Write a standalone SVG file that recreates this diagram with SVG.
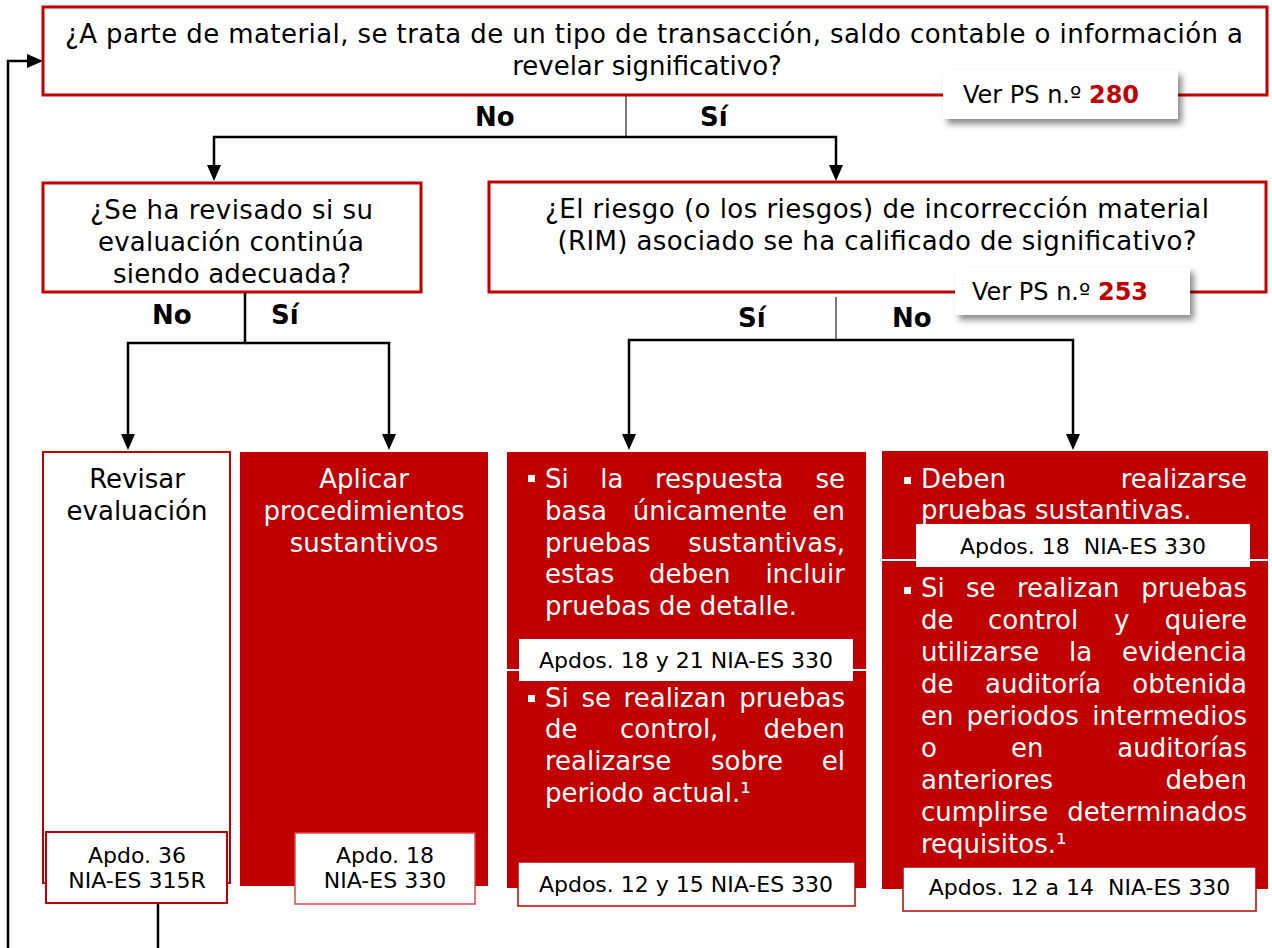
<svg xmlns="http://www.w3.org/2000/svg" width="1272" height="948" viewBox="0 0 1272 948">
<defs>
<style>
.t{font-family:"DejaVu Sans",Verdana,sans-serif;font-size:26px;fill:#000}
.w{fill:#fff}
.r{font-size:22px;white-space:pre}
.v{font-size:24px}
.b{font-weight:bold}
.red{fill:#C00000}
.e{text-anchor:end}
.m{text-anchor:middle}
.conn{fill:none;stroke:#000;stroke-width:2.5}
.thin{fill:none;stroke:#222;stroke-width:1.2}
.qbox{fill:#fff;stroke:#C00000;stroke-width:3}
.fillred{fill:#C00000}
.ref{fill:#fff}
</style>
<marker id="ah" viewBox="0 0 16 16" markerWidth="16" markerHeight="16" refX="6" refY="8" orient="auto" markerUnits="userSpaceOnUse">
<path d="M0,1 L16,8 L0,15 z" fill="#000"/>
</marker>
<filter id="sh" x="-10%" y="-30%" width="130%" height="180%">
<feDropShadow dx="4" dy="5" stdDeviation="3" flood-color="#000" flood-opacity="0.45"/>
</filter>
</defs>
<rect width="1272" height="948" fill="#fff"/>

<g id="connectors">
<line class="thin" x1="626" y1="95" x2="626" y2="137"/>
<path class="conn" d="M626,137 H214 V171" marker-end="url(#ah)"/>
<path class="conn" d="M626,137 H836 V171" marker-end="url(#ah)"/>
<path class="conn" d="M245,292 V343 H128 V440" marker-end="url(#ah)"/>
<path class="conn" d="M245,343 H389 V440" marker-end="url(#ah)"/>
<line class="thin" x1="836" y1="297" x2="836" y2="340"/>
<path class="conn" d="M836,340 H629 V440" marker-end="url(#ah)"/>
<path class="conn" d="M836,340 H1073 V440" marker-end="url(#ah)"/>
<path class="conn" d="M158,903 V948"/>
<path class="conn" d="M8,948 V61 H33" marker-end="url(#ah)"/>
</g>

<g id="labels" class="t b">
<text x="475" y="126">No</text>
<text x="700" y="126">Sí</text>
<text x="152" y="324">No</text>
<text x="271" y="324">Sí</text>
<text x="738" y="327">Sí</text>
<text x="892" y="327">No</text>
</g>

<g id="q1">
<rect class="qbox" x="43" y="7" width="1224" height="88"/>
<text class="t" x="65" y="43" textLength="1178" lengthAdjust="spacing">¿A parte de material, se trata de un tipo de transacción, saldo contable o información a</text>
<text class="t m" x="647" y="75">revelar significativo?</text>
<g id="ps280">
<rect x="943" y="70" width="235" height="49" fill="#fff" filter="url(#sh)"/>
<text class="t v" x="963" y="103">Ver PS n.º <tspan class="b red">280</tspan></text>
</g>
</g>

<g id="q2">
<rect class="qbox" x="43" y="183" width="378" height="109"/>
<text class="t m" x="231.5" y="219" textLength="283" lengthAdjust="spacing">¿Se ha revisado si su</text>
<text class="t m" x="231" y="251" textLength="266" lengthAdjust="spacing">evaluación continúa</text>
<text class="t m" x="232" y="283" textLength="238" lengthAdjust="spacing">siendo adecuada?</text>
</g>

<g id="q3">
<rect class="qbox" x="489" y="182" width="777" height="110"/>
<text class="t m" x="877" y="218" textLength="664" lengthAdjust="spacing">¿El riesgo (o los riesgos) de incorrección material</text>
<text class="t m" x="877" y="250" textLength="639" lengthAdjust="spacing">(RIM) asociado se ha calificado de significativo?</text>
<g id="ps253">
<rect x="955" y="267" width="235" height="48" fill="#fff" filter="url(#sh)"/>
<text class="t v" x="972" y="300">Ver PS n.º <tspan class="b red">253</tspan></text>
</g>
</g>

<g id="n1">
<rect x="43" y="452" width="187" height="431" fill="#fff" stroke="#C00000" stroke-width="2"/>
<text class="t m" x="137" y="488">Revisar</text>
<text class="t m" x="137" y="520">evaluación</text>
<rect x="46" y="832" width="181" height="71" fill="#fff" stroke="#C00000" stroke-width="2"/>
<text class="t r m" x="137" y="863">Apdo. 36</text>
<text class="t r m" x="137" y="888">NIA-ES 315R</text>
</g>

<g id="n2">
<rect class="fillred" x="240" y="452" width="248" height="434"/>
<text class="t w m" x="364" y="488">Aplicar</text>
<text class="t w m" x="364" y="520">procedimientos</text>
<text class="t w m" x="364" y="552">sustantivos</text>
<rect x="295" y="833" width="180" height="71" fill="#fff" stroke="#E04848" stroke-width="1.5"/>
<text class="t r m" x="385" y="863">Apdo. 18</text>
<text class="t r m" x="385" y="888">NIA-ES 330</text>
</g>

<g id="n3">
<rect class="fillred" x="507" y="452" width="359" height="436"/>
<rect x="528" y="475" width="7" height="7" fill="#fff"/>
<g class="t w">
<text y="488"><tspan x="545">Si</tspan><tspan x="600.3">la</tspan><tspan x="655">respuesta</tspan></text>
<text class="e" x="845" y="488">se</text>
<text y="520"><tspan x="545">basa</tspan><tspan x="632.7">únicamente</tspan></text>
<text class="e" x="845" y="520">en</text>
<text x="545" y="552">pruebas</text>
<text class="e" x="845" y="552">sustantivas,</text>
<text y="583"><tspan x="545">estas</tspan><tspan x="649">deben</tspan></text>
<text class="e" x="845" y="583">incluir</text>
<text x="545" y="615">pruebas de detalle.</text>
</g>
<line x1="507" y1="670" x2="866" y2="670" stroke="#fff" stroke-width="2"/>
<rect class="ref" x="519" y="639" width="334" height="42"/>
<text class="t r m" x="686" y="668">Apdos. 18 y 21 NIA-ES 330</text>
<rect x="528" y="695" width="7" height="7" fill="#fff"/>
<g class="t w">
<text y="707"><tspan x="545">Si</tspan><tspan x="581.4">se</tspan><tspan x="623.6">realizan</tspan></text>
<text class="e" x="845" y="707">pruebas</text>
<text y="738"><tspan x="545">de</tspan><tspan x="620">control,</tspan></text>
<text class="e" x="845" y="738">deben</text>
<text y="770"><tspan x="545">realizarse</tspan><tspan x="711">sobre</tspan></text>
<text class="e" x="845" y="770">el</text>
<text x="545" y="802">periodo actual.¹</text>
</g>
<rect x="518" y="862" width="337" height="44" fill="#fff" stroke="#C00000" stroke-width="1.5"/>
<text class="t r m" x="686" y="892">Apdos. 12 y 15 NIA-ES 330</text>
</g>

<g id="n4">
<rect class="fillred" x="882" y="451" width="386" height="438"/>
<rect x="904" y="477" width="7" height="7" fill="#fff"/>
<g class="t w">
<text x="921" y="488">Deben</text>
<text class="e" x="1247" y="488">realizarse</text>
<text x="921" y="519">pruebas sustantivas.</text>
</g>
<line x1="882" y1="560" x2="1268" y2="560" stroke="#fff" stroke-width="2"/>
<rect class="ref" x="916" y="524" width="334" height="43"/>
<text class="t r m" x="1083" y="554">Apdos. 18  NIA-ES 330</text>
<rect x="904" y="587" width="7" height="7" fill="#fff"/>
<g class="t w">
<text y="597"><tspan x="921">Si</tspan><tspan x="966">se</tspan><tspan x="1017">realizan</tspan></text>
<text class="e" x="1247" y="597">pruebas</text>
<text y="629"><tspan x="921">de</tspan><tspan x="988">control</tspan><tspan x="1114">y</tspan></text>
<text class="e" x="1247" y="629">quiere</text>
<text y="661"><tspan x="921">utilizarse</tspan><tspan x="1069">la</tspan></text>
<text class="e" x="1247" y="661">evidencia</text>
<text y="693"><tspan x="921">de</tspan><tspan x="985">auditoría</tspan></text>
<text class="e" x="1247" y="693">obtenida</text>
<text y="725"><tspan x="921">en</tspan><tspan x="966.5">periodos</tspan></text>
<text class="e" x="1247" y="725">intermedios</text>
<text y="757"><tspan x="921">o</tspan><tspan x="1011">en</tspan></text>
<text class="e" x="1247" y="757">auditorías</text>
<text x="921" y="789">anteriores</text>
<text class="e" x="1247" y="789">deben</text>
<text x="921" y="821">cumplirse</text>
<text class="e" x="1247" y="821">determinados</text>
<text x="921" y="853">requisitos.¹</text>
</g>
<rect x="903" y="867" width="353" height="44" fill="#fff" stroke="#C00000" stroke-width="1.5"/>
<text class="t r m" x="1079.5" y="895">Apdos. 12 a 14  NIA-ES 330</text>
</g>
</svg>
